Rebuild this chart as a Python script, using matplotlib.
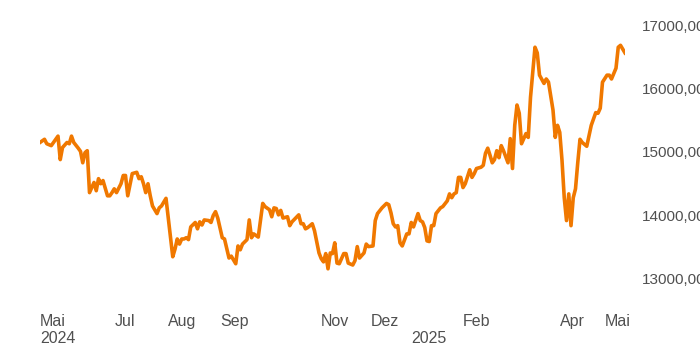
import matplotlib
matplotlib.use("Agg")
import matplotlib.pyplot as plt
from matplotlib.ticker import FuncFormatter

# Handelstag-Index (0 = Mitte Mai 2024) und Indexstand
days = [0, 2, 3, 5, 6, 8, 9, 10, 12, 13, 14, 15, 17, 18, 19, 20, 21, 22, 23, 24,
        25, 26, 27, 28, 30, 31, 32, 33, 34, 36, 37, 38, 39, 41, 43, 44, 45, 46, 47, 48,
        49, 50, 52, 53, 54, 56, 57, 58, 59, 60, 61, 62, 63, 64, 65, 66, 67, 69, 70, 71,
        72, 73, 75, 76, 77, 78, 79, 81, 82, 84, 85, 87, 88, 89, 90, 92, 93, 94, 95, 97,
        99, 100, 102, 103, 104, 105, 106, 107, 108, 110, 111, 112, 115, 116, 117, 118, 119, 121, 122, 124,
        125, 126, 127, 128, 129, 130, 131, 132, 133, 135, 136, 137, 139, 140, 141, 142, 144, 145, 146, 148,
        149, 150, 152, 154, 155, 156, 157, 158, 159, 160, 161, 163, 164, 165, 166, 168, 169, 170, 171, 172,
        173, 174, 175, 176, 178, 179, 181, 182, 183, 184, 185, 186, 187, 188, 189, 191, 192, 193, 194, 196,
        197, 198, 199, 200, 201, 202, 203, 204, 205, 206, 208, 209, 210, 211, 212, 213, 214, 216, 217, 218,
        220, 221, 222, 224, 225, 226, 228, 229, 230, 231, 232, 233, 234, 235, 236, 237, 238, 239, 240, 241,
        243, 245, 247, 248, 249, 250, 252, 253, 254, 256, 257, 258, 260]

values = [15150, 15200, 15130, 15100, 15150, 15250, 14880, 15070, 15150, 15130, 15250, 15150, 15060, 15010, 14830, 14990, 15020, 14360, 14440, 14520,
          14390, 14580, 14500, 14550, 14310, 14310, 14360, 14420, 14360, 14500, 14630, 14630, 14310, 14660, 14680, 14580, 14610, 14500, 14360, 14500,
          14310, 14150, 14030, 14120, 14150, 14270, 13960, 13650, 13350, 13470, 13630, 13550, 13630, 13630, 13650, 13620, 13820, 13890, 13790, 13900,
          13850, 13930, 13920, 13890, 14000, 14060, 13960, 13650, 13630, 13330, 13360, 13240, 13520, 13460, 13550, 13620, 13930, 13650, 13710, 13660,
          14190, 14140, 14090, 13980, 14120, 14110, 14010, 14080, 13960, 13980, 13840, 13900, 14010, 13870, 13870, 13790, 13810, 13870, 13760, 13410,
          13320, 13270, 13400, 13160, 13410, 13400, 13570, 13250, 13240, 13400, 13400, 13250, 13220, 13290, 13510, 13330, 13410, 13550, 13510, 13520,
          13920, 14030, 14120, 14190, 14170, 14040, 13870, 13820, 13840, 13570, 13520, 13710, 13710, 13890, 13820, 14030, 13920, 13900, 13810, 13600,
          13590, 13840, 13840, 14030, 14120, 14140, 14230, 14340, 14280, 14340, 14360, 14600, 14600, 14440, 14500, 14720, 14600, 14660, 14740, 14760,
          14790, 14980, 15060, 14950, 14830, 14880, 15020, 14910, 15100, 15020, 14830, 15210, 14740, 15420, 15740, 15610, 15130, 15290, 15230, 15860,
          16650, 16560, 16210, 16080, 16150, 16100, 15660, 15230, 15420, 15310, 14870, 14280, 13920, 14340, 13840, 14280, 14420, 14830, 15200, 15150,
          15090, 15420, 15620, 15610, 15690, 16100, 16210, 16210, 16150, 16320, 16650, 16680, 16560]

tick_days = [0, 33, 57, 80, 125, 147, 165, 188, 231, 251]
tick_labels = ["Mai\n2024", "Jul", "Aug", "Sep", "Nov", "Dez", "\n2025", "Feb", "Apr", "Mai"]
y_ticks = [13000, 14000, 15000, 16000, 17000]

plt.rcParams['font.family'] = ['Liberation Sans', 'DejaVu Sans']

fig = plt.figure(figsize=(7, 3.5), dpi=100)
# Achsenbereich in Pixeln: links 40, rechts 625, oben 5, unten 300
ax = fig.add_axes([40 / 700, 50 / 350, 585 / 700, 295 / 350])

ax.plot(days, values, color='#f07800', linewidth=2.6, solid_joinstyle='round')

ax.set_xlim(0, 260)
ax.set_ylim(12669, 17315)

ax.set_xticks(tick_days)
ax.set_xticklabels(tick_labels, ha='left', fontsize=11.5, color='#505050')
ax.set_yticks(y_ticks)
ax.yaxis.set_major_formatter(FuncFormatter(lambda v, p: f"{v:.2f}".replace('.', ',')))
ax.yaxis.tick_right()
ax.tick_params(axis='y', length=0, pad=12, labelsize=11, labelcolor='#505050')
ax.tick_params(axis='x', length=0, pad=10)

for s in ax.spines.values():
    s.set_visible(False)

fig.savefig('out.png', dpi=100)
